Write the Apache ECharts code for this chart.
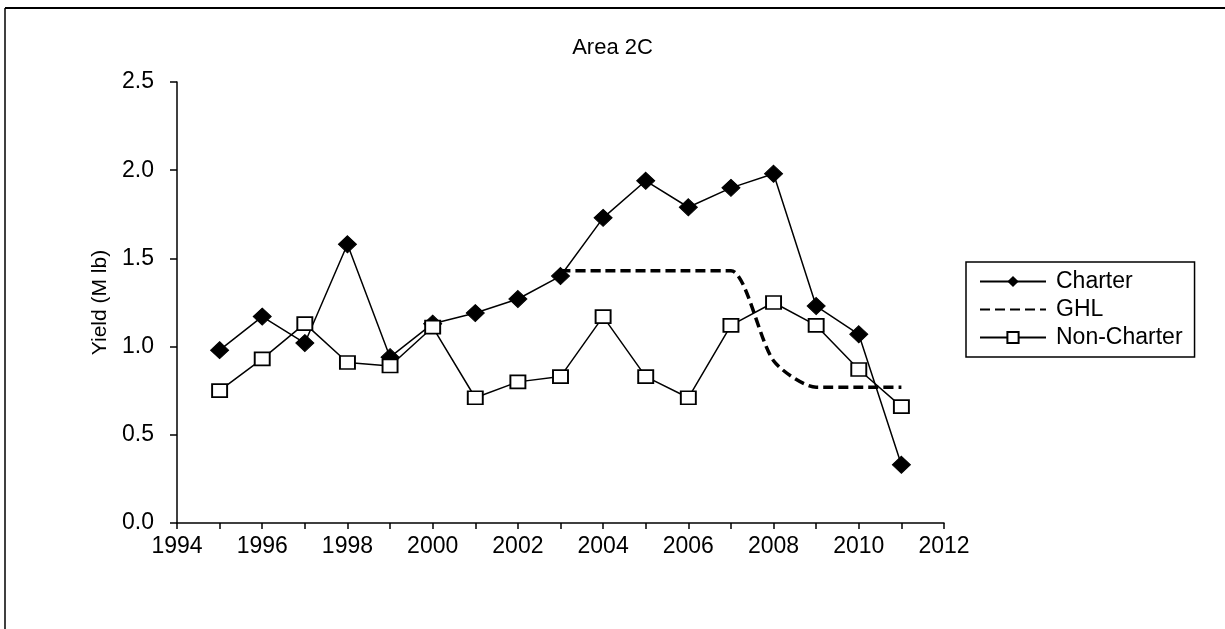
<!DOCTYPE html>
<html><head><meta charset="utf-8">
<script src="https://cdn.jsdelivr.net/npm/echarts@6/dist/echarts.min.js"></script>
<style>html,body{margin:0;padding:0;background:#fff}#c{width:1225px;height:629px}</style>
</head><body><div id="c"></div>
<script>
var years = [1995,1996,1997,1998,1999,2000,2001,2002,2003,2004,2005,2006,2007,2008,2009,2010,2011];
var charter = [0.98,1.17,1.02,1.58,0.94,1.13,1.19,1.27,1.40,1.73,1.94,1.79,1.90,1.98,1.23,1.07,0.33];
var nonCharter = [0.75,0.93,1.13,0.91,0.89,1.11,0.71,0.80,0.83,1.17,0.83,0.71,1.12,1.25,1.12,0.87,0.66];
var ghlYears = [2003,2004,2005,2006,2007,2008,2009,2010,2011];
var ghl = [1.43,1.43,1.43,1.43,1.43,0.92,0.77,0.77,0.77];
var title = 'Area 2C';
var yName = 'Yield (M lb)';

function pairs(xs, ys){ return xs.map(function(x,i){ return [x, ys[i]]; }); }
var font = '"Liberation Sans", Arial, sans-serif';
var chart = echarts.init(document.getElementById('c'), null, {renderer:'canvas'});
chart.setOption({
  animation:false,
  backgroundColor:'#fff',
  title:{text:title, left:'center', top:32, textStyle:{fontFamily:font, fontSize:22, fontWeight:'normal', color:'#000'}},
  grid:{left:177, right:281, top:82, bottom:106},
  legend:{
    orient:'vertical', left:966, top:262, itemWidth:66, itemHeight:14, itemGap:5,
    padding:[8,12,8,13], borderColor:'#000', borderWidth:1.5,
    textStyle:{fontFamily:font, fontSize:23, color:'#000', padding:[0,0,0,5]},
    data:['Charter', {name:'GHL', itemStyle:{color:'rgba(0,0,0,0)', borderColor:'rgba(0,0,0,0)', borderWidth:0}}, 'Non-Charter']
  },
  xAxis:{type:'value', min:1994, max:2012, interval:1,
    axisLine:{lineStyle:{color:'#000', width:1.5}},
    axisTick:{show:true, length:6, lineStyle:{color:'#000', width:1.5}},
    axisLabel:{margin:12, fontFamily:font, fontSize:23, color:'#000',
      formatter:function(v){ return (v % 2 === 0) ? String(v) : ''; }},
    splitLine:{show:false}},
  yAxis:{type:'value', min:0, max:2.5, interval:0.5,
    name:yName, nameLocation:'middle', nameGap:50, nameRotate:90,
    nameTextStyle:{fontFamily:font, fontSize:21, color:'#000'},
    axisLine:{show:true, lineStyle:{color:'#000', width:1.5}},
    axisTick:{show:true, length:7, lineStyle:{color:'#000', width:1.5}},
    axisLabel:{margin:23, fontFamily:font, fontSize:23, color:'#000', formatter:function(v){return v.toFixed(1);}},
    splitLine:{show:false}},
  series:[
    {name:'Charter', type:'line', data:pairs(years, charter), symbol:'diamond', symbolSize:[18,17],
      lineStyle:{color:'#000', width:1.5}, itemStyle:{color:'#000', borderColor:'#000'}},
    {name:'GHL', type:'line', data:pairs(ghlYears, ghl), symbol:'none', smooth:0.25,
      lineStyle:{color:'#000', width:3.5, type:[10,5]}, itemStyle:{color:'#000'}},
    {name:'Non-Charter', type:'line', data:pairs(years, nonCharter), symbol:'rect', symbolSize:[15,13],
      lineStyle:{color:'#000', width:1.5}, itemStyle:{color:'#fff', borderColor:'#000', borderWidth:1.8}}
  ],
  graphic:[
    {type:'line', shape:{x1:5,y1:8,x2:1225,y2:8}, style:{stroke:'#000', lineWidth:2}},
    {type:'line', shape:{x1:5,y1:8,x2:5,y2:629}, style:{stroke:'#000', lineWidth:1.5}}
  ]
});
</script></body></html>
